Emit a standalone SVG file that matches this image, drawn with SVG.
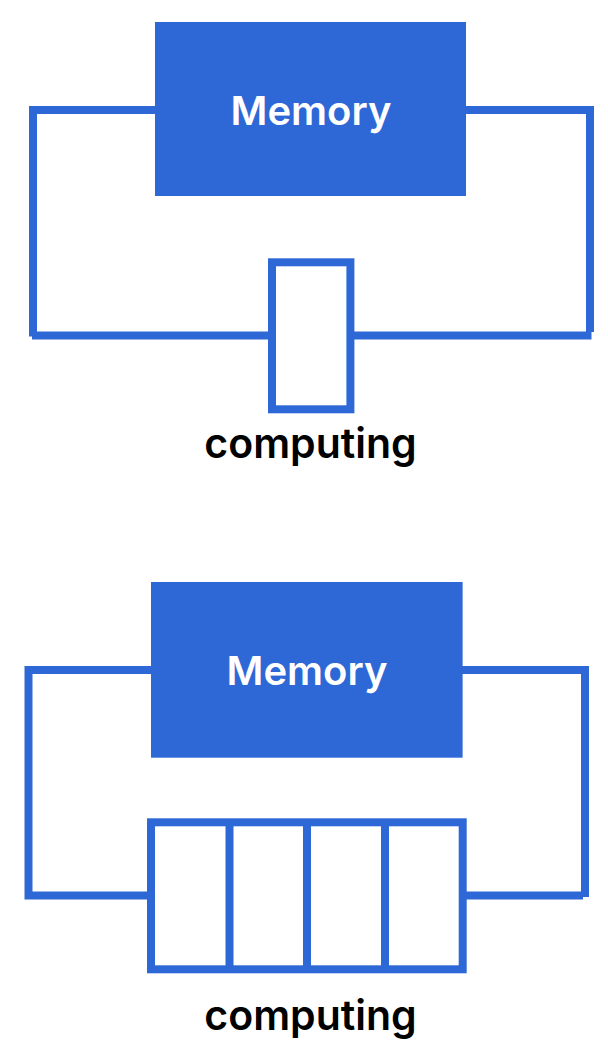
<svg xmlns="http://www.w3.org/2000/svg" width="608" height="1049" viewBox="0 0 608 1049">
<style>
.mem{fill:#2E68D6}
.memt{fill:#ffffff;font-family:Inter,Roboto,"Liberation Sans",sans-serif;font-size:40px;font-weight:600;text-anchor:middle}
.box{fill:none;stroke:#2E68D6;stroke-width:8}
.lab{fill:#000000;font-family:Inter,Roboto,"Liberation Sans",sans-serif;font-size:41px;font-weight:600;text-anchor:middle}
.wire{fill:none;stroke:#2E68D6;stroke-width:8;stroke-linecap:butt;stroke-linejoin:miter}
</style>
<rect width="608" height="1049" fill="#ffffff"/>
<g id="connectors">
<path class="wire" d="M155,110 H33 V336.5"/>
<path class="wire" d="M32,335.5 H268"/>
<path class="wire" d="M466,110 H590 V332"/>
<path class="wire" d="M354,335.5 H591.5"/>
<path class="wire" d="M151,670 H28.5 V895.5 H147"/>
<path class="wire" d="M462,670 H585 V897"/>
<path class="wire" d="M466,895.5 H583"/>
</g>
<g id="memory1">
<rect class="mem" x="155" y="22" width="311" height="174"/>
<text class="memt" x="311" y="125">Memory</text>
</g>
<g id="computing1">
<rect class="box" x="272" y="262.3" width="78.4" height="147"/>
<text class="lab" x="310.5" y="458">computing</text>
</g>
<g id="memory2">
<rect class="mem" x="151" y="582" width="311.6" height="175.7"/>
<text class="memt" x="307" y="685">Memory</text>
</g>
<g id="computing2">
<rect class="box" x="151" y="822.3" width="311.7" height="147"/>
<line class="box" x1="229.5" y1="822.3" x2="229.5" y2="969.3"/>
<line class="box" x1="307" y1="822.3" x2="307" y2="969.3"/>
<line class="box" x1="385" y1="822.3" x2="385" y2="969.3"/>
<text class="lab" x="310.5" y="1030">computing</text>
</g>
</svg>
